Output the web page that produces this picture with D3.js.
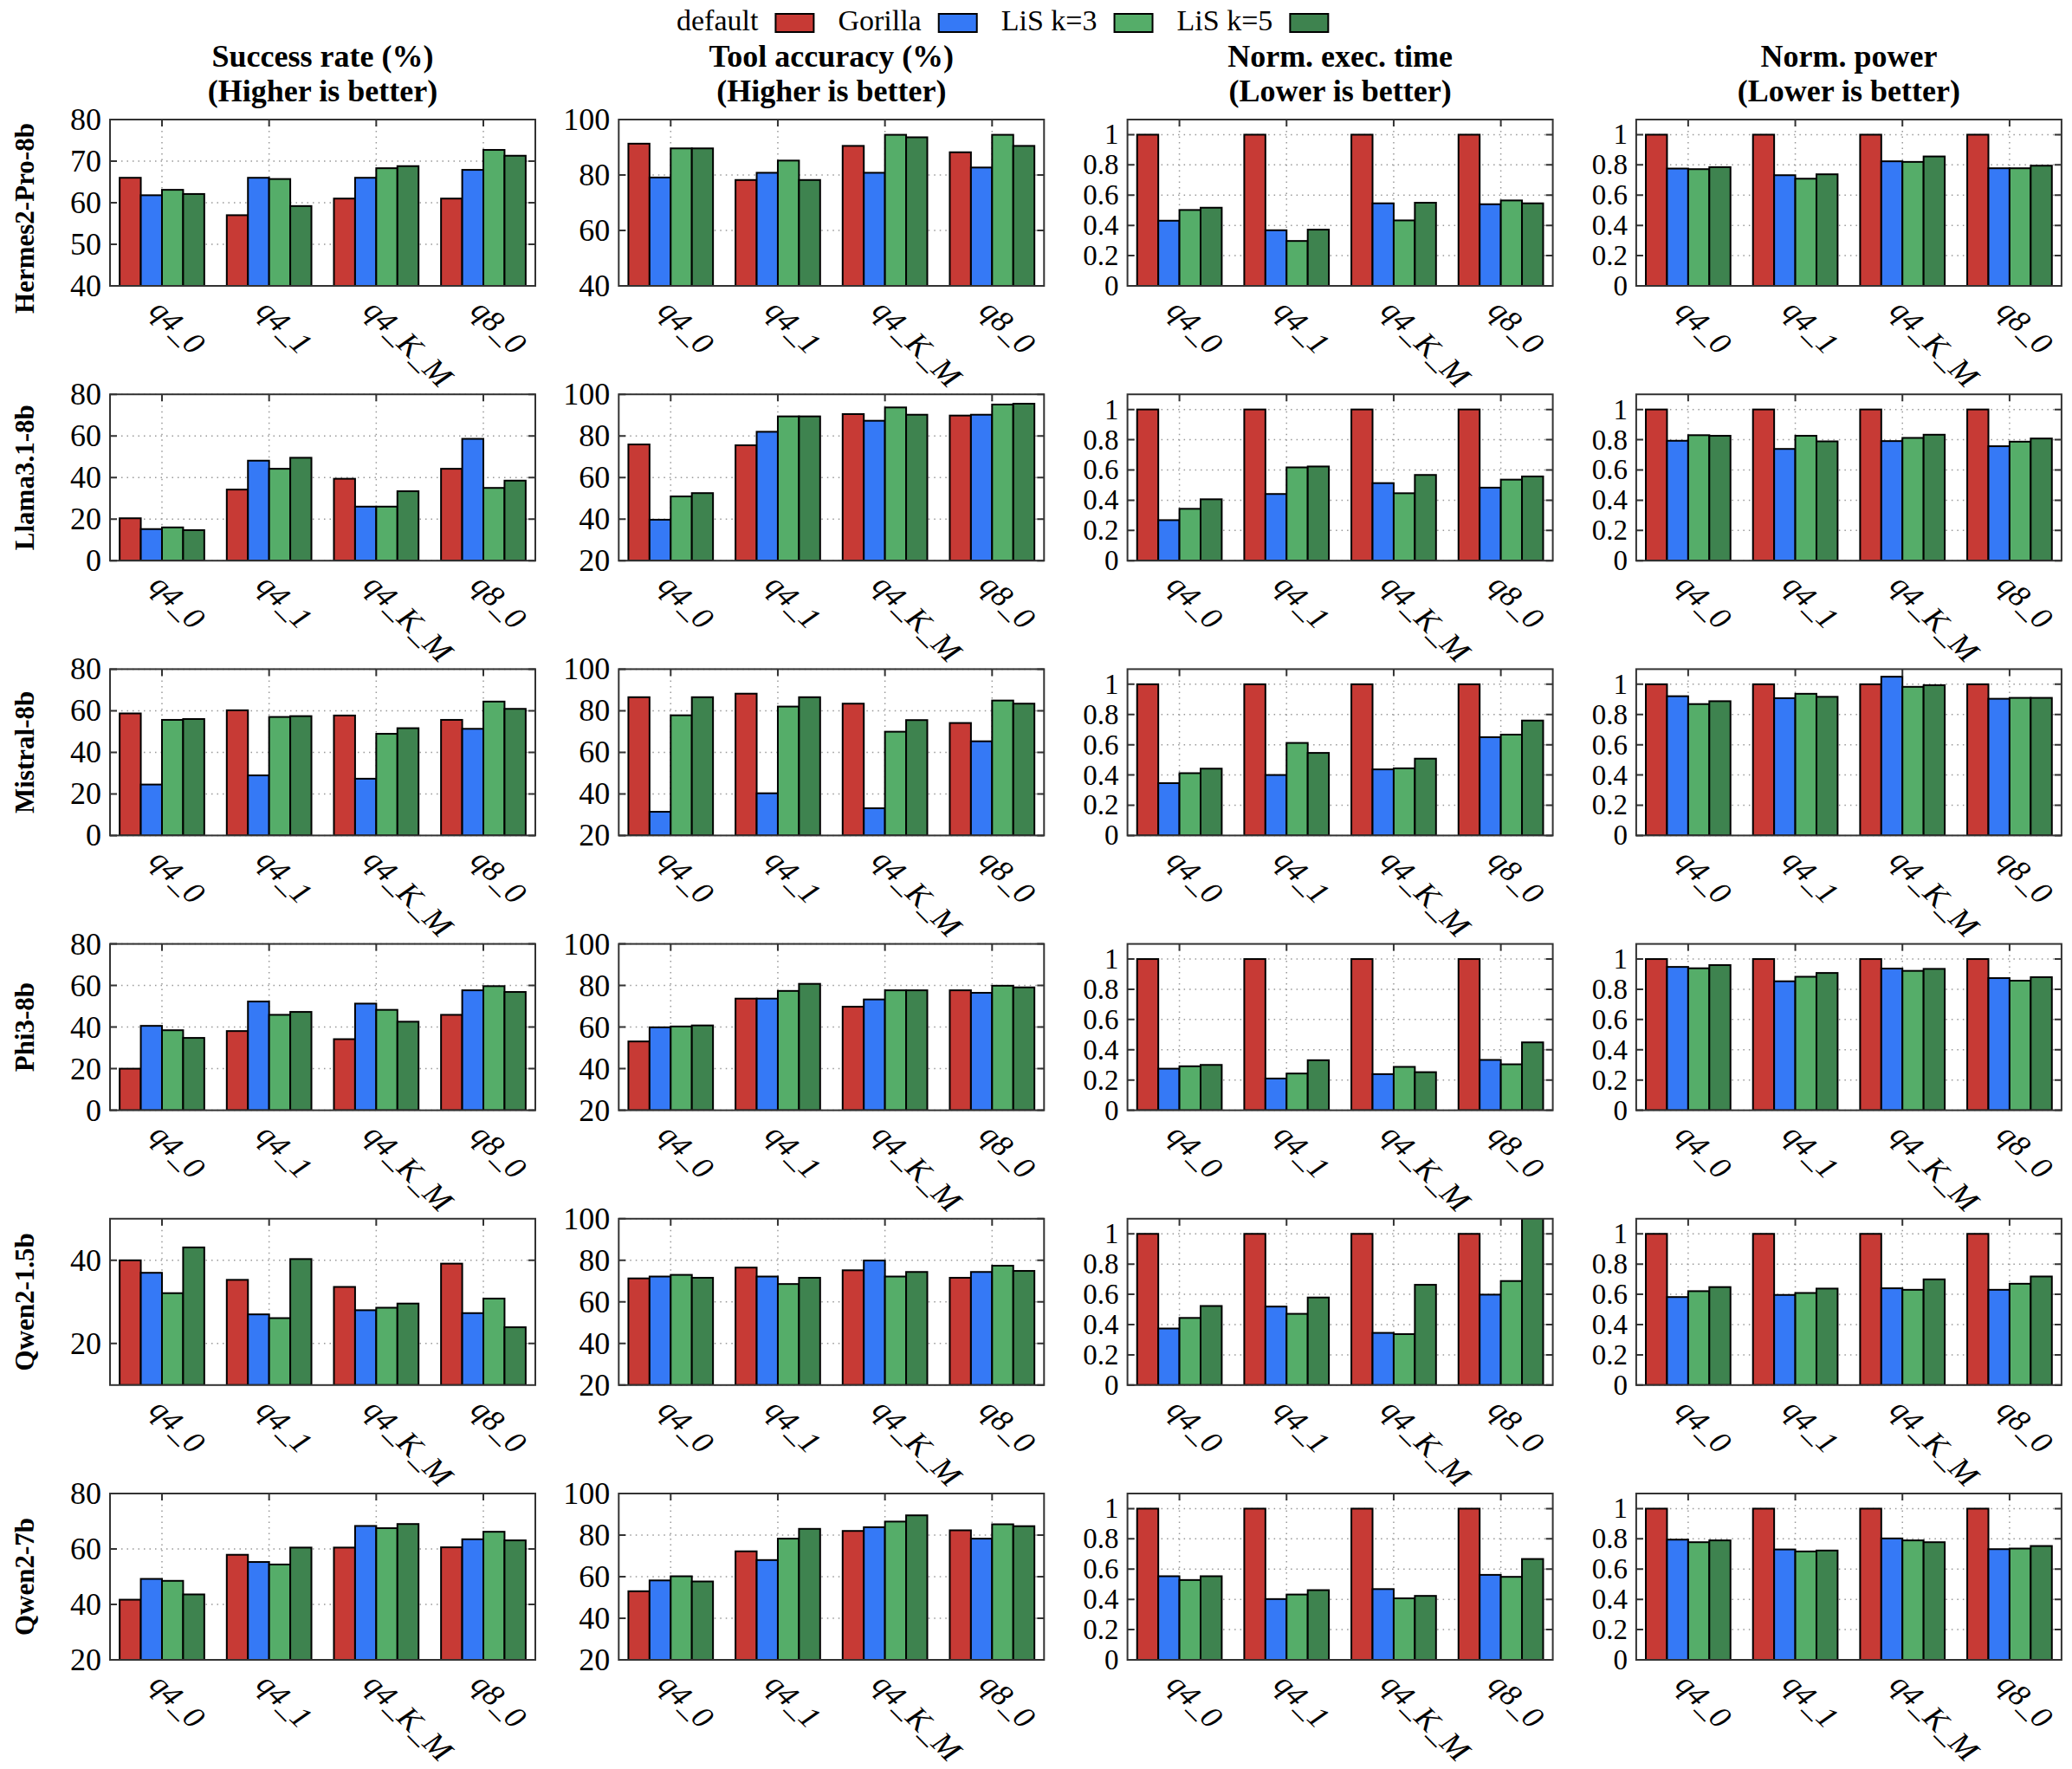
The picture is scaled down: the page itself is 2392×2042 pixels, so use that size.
<!DOCTYPE html>
<html>
<head>
<meta charset="utf-8">
<script src="https://cdn.jsdelivr.net/npm/d3@7"></script>
<style>
  body { margin: 0; background: #fff; }
  text { font-family: "Liberation Serif", "Times New Roman", serif; fill: #000; }
</style>
</head>
<body>
<svg id="chart" width="2392" height="2042"></svg>
<script>
const quants = ["q4_0", "q4_1", "q4_K_M", "q8_0"];
const methods = ["default", "Gorilla", "LiS k=3", "LiS k=5"];
const methodColors = ["#c73a35", "#3579f6", "#55ad69", "#3e834f"];
const models = ["Hermes2-Pro-8b", "Llama3.1-8b", "Mistral-8b", "Phi3-8b", "Qwen2-1.5b", "Qwen2-7b"];
const metricTitles = [
  ["Success rate (%)", "(Higher is better)"],
  ["Tool accuracy (%)", "(Higher is better)"],
  ["Norm. exec. time", "(Lower is better)"],
  ["Norm. power", "(Lower is better)"]
];

// values[model][quant][method]
const successRate = [
  [[66.0, 61.8, 63.1, 62.1], [57.0, 66.0, 65.7, 59.2], [61.0, 66.0, 68.3, 68.8], [61.0, 67.9, 72.7, 71.3]],
  [[20.4, 15.2, 16.0, 14.7], [34.2, 48.1, 44.2, 49.5], [39.4, 26.0, 26.0, 33.4], [44.2, 58.6, 35.0, 38.5]],
  [[58.7, 24.5, 55.6, 56.0], [60.2, 28.9, 57.0, 57.4], [57.7, 27.3, 48.9, 51.6], [55.6, 51.3, 64.4, 60.9]],
  [[20.0, 40.6, 38.5, 34.8], [38.1, 52.3, 45.9, 47.3], [34.2, 51.3, 48.3, 42.6], [45.9, 57.7, 59.7, 56.9]],
  [[40.0, 37.0, 32.1, 43.1], [35.3, 27.0, 26.1, 40.3], [33.6, 28.0, 28.6, 29.6], [39.2, 27.3, 30.8, 23.9]],
  [[41.7, 49.2, 48.5, 43.6], [57.9, 55.3, 54.4, 60.5], [60.5, 68.3, 67.5, 69.0], [60.6, 63.5, 66.2, 63.1]]
];
const toolAccuracy = [
  [[91.3, 79.1, 89.6, 89.6], [78.2, 80.8, 85.2, 78.2], [90.5, 80.8, 94.5, 93.6], [88.2, 82.7, 94.5, 90.5]],
  [[75.9, 39.7, 50.9, 52.5], [75.5, 82.0, 89.4, 89.4], [90.5, 87.3, 93.7, 90.2], [89.8, 90.2, 95.1, 95.5]],
  [[86.5, 31.4, 77.8, 86.5], [88.2, 40.3, 82.0, 86.5], [83.4, 33.1, 69.9, 75.5], [74.1, 65.3, 84.9, 83.4]],
  [[53.1, 59.9, 60.3, 60.8], [73.7, 73.7, 77.4, 80.8], [69.8, 73.3, 77.7, 77.7], [77.7, 76.5, 79.9, 79.1]],
  [[71.3, 72.2, 73.0, 71.6], [76.5, 72.2, 68.6, 71.6], [75.2, 79.9, 72.2, 74.4], [71.6, 74.4, 77.4, 74.9]],
  [[53.0, 58.2, 60.2, 57.7], [72.2, 68.0, 78.3, 83.0], [82.0, 83.8, 86.5, 89.5], [82.3, 78.3, 85.2, 84.3]]
];
const execTime = [
  [[1, 0.431, 0.502, 0.517], [1, 0.368, 0.297, 0.372], [1, 0.546, 0.433, 0.550], [1, 0.540, 0.565, 0.546]],
  [[1, 0.268, 0.343, 0.406], [1, 0.441, 0.617, 0.623], [1, 0.513, 0.446, 0.567], [1, 0.483, 0.536, 0.557]],
  [[1, 0.346, 0.412, 0.442], [1, 0.400, 0.612, 0.546], [1, 0.437, 0.444, 0.508], [1, 0.650, 0.667, 0.760]],
  [[1, 0.275, 0.291, 0.300], [1, 0.210, 0.243, 0.331], [1, 0.239, 0.287, 0.252], [1, 0.333, 0.304, 0.449]],
  [[1, 0.374, 0.444, 0.523], [1, 0.519, 0.471, 0.579], [1, 0.345, 0.337, 0.663], [1, 0.598, 0.688, 1.12]],
  [[1, 0.553, 0.528, 0.553], [1, 0.402, 0.432, 0.461], [1, 0.468, 0.407, 0.423], [1, 0.562, 0.549, 0.667]]
];
const power = [
  [[1, 0.776, 0.772, 0.785], [1, 0.732, 0.709, 0.738], [1, 0.824, 0.820, 0.856], [1, 0.778, 0.778, 0.795]],
  [[1, 0.793, 0.830, 0.826], [1, 0.739, 0.826, 0.789], [1, 0.791, 0.812, 0.833], [1, 0.757, 0.787, 0.808]],
  [[1, 0.921, 0.869, 0.888], [1, 0.908, 0.937, 0.917], [1, 1.05, 0.983, 0.994], [1, 0.904, 0.910, 0.910]],
  [[1, 0.948, 0.939, 0.960], [1, 0.853, 0.883, 0.908], [1, 0.937, 0.922, 0.935], [1, 0.874, 0.857, 0.880]],
  [[1, 0.582, 0.621, 0.648], [1, 0.596, 0.609, 0.638], [1, 0.640, 0.630, 0.699], [1, 0.630, 0.670, 0.718]],
  [[1, 0.795, 0.778, 0.790], [1, 0.730, 0.717, 0.723], [1, 0.803, 0.790, 0.778], [1, 0.732, 0.736, 0.753]]
];

// y ranges and tick labels per row
const successDomains = [[40, 80], [0, 80], [0, 80], [0, 80], [10, 50], [20, 80]];
const successTicks = [[40, 50, 60, 70, 80], [0, 20, 40, 60, 80], [0, 20, 40, 60, 80], [0, 20, 40, 60, 80], [20, 40], [20, 40, 60, 80]];
const accDomains = [[40, 100], [20, 100], [20, 100], [20, 100], [20, 100], [20, 100]];
const accTicks = [[40, 60, 80, 100], [20, 40, 60, 80, 100], [20, 40, 60, 80, 100], [20, 40, 60, 80, 100], [20, 40, 60, 80, 100], [20, 40, 60, 80, 100]];
const normDomain = [0, 1.1];
const normTicks = [0, 0.2, 0.4, 0.6, 0.8, 1];

const metrics = [successRate, toolAccuracy, execTime, power];
const domainFor = (c, r) => c === 0 ? successDomains[r] : c === 1 ? accDomains[r] : normDomain;
const ticksFor = (c, r) => c === 0 ? successTicks[r] : c === 1 ? accTicks[r] : normTicks;

const svg = d3.select("#chart");
const W = 491, H = 192;
const left0 = 127, top0 = 138, colStep = 587.3, rowStep = 317.2;
const fmt = d3.format("~g");

// column titles
metricTitles.forEach((t, c) => {
  const cx = left0 + c * colStep + W / 2;
  t.forEach((line, k) => {
    svg.append("text").attr("x", cx).attr("y", 77 + k * 40)
      .attr("text-anchor", "middle").attr("font-size", 36).attr("font-weight", "bold")
      .text(line);
  });
});

// legend (label first, then swatch)
let lx = 781;
methods.forEach((m, i) => {
  const t = svg.append("text").attr("x", lx).attr("y", 35).attr("font-size", 34).text(m);
  lx += t.node().getComputedTextLength() + 20;
  svg.append("rect").attr("x", lx).attr("y", 16).attr("width", 44).attr("height", 21)
    .attr("fill", methodColors[i]).attr("stroke", "#000").attr("stroke-width", 2);
  lx += 44 + 28;
});

models.forEach((model, r) => {
  const top = top0 + r * rowStep;
  svg.append("text")
    .attr("transform", `translate(28,${top + H / 2 + (r === 0 ? 18 : 0)}) rotate(-90)`)
    .attr("text-anchor", "middle").attr("dominant-baseline", "central")
    .attr("font-size", 31).attr("font-weight", "bold")
    .text(model);

  metrics.forEach((metric, c) => {
    const g = svg.append("g").attr("transform", `translate(${left0 + c * colStep},${top})`);
    const x = d3.scaleBand().domain(quants).range([0, W]).paddingInner(0.21).paddingOuter(0.09);
    const xs = d3.scaleBand().domain(methods).range([0, x.bandwidth()]);
    const dom = domainFor(c, r);
    const y = d3.scaleLinear().domain(dom).range([H, 0]);
    const yt = ticksFor(c, r);
    const clipId = `clip-${r}-${c}`;
    g.append("clipPath").attr("id", clipId).append("rect").attr("width", W).attr("height", H);

    // grid
    g.append("g").selectAll("line").data(yt).join("line")
      .attr("x1", 0).attr("x2", W).attr("y1", d => y(d)).attr("y2", d => y(d))
      .attr("stroke", "#999").attr("stroke-width", 1.5).attr("stroke-dasharray", "1.5 5");
    g.append("g").selectAll("line").data(quants).join("line")
      .attr("x1", d => x(d) + x.bandwidth() / 2).attr("x2", d => x(d) + x.bandwidth() / 2)
      .attr("y1", 0).attr("y2", H)
      .attr("stroke", "#999").attr("stroke-width", 1.5).attr("stroke-dasharray", "1.5 5");

    // bars
    g.append("g").attr("clip-path", `url(#${clipId})`)
      .selectAll("g").data(quants).join("g")
      .attr("transform", d => `translate(${x(d)},0)`)
      .selectAll("rect")
      .data((q, qi) => metric[r][qi].map((v, k) => ({ m: methods[k], v, k })))
      .join("rect")
      .attr("x", d => xs(d.m)).attr("width", xs.bandwidth())
      .attr("y", d => y(d.v)).attr("height", d => y(dom[0]) - y(d.v))
      .attr("fill", d => methodColors[d.k])
      .attr("stroke", "#000").attr("stroke-width", 2);

    // frame and ticks
    g.append("rect").attr("width", W).attr("height", H)
      .attr("fill", "none").attr("stroke", "#333").attr("stroke-width", 2);
    g.append("g").selectAll("path").data(yt).join("path")
      .attr("d", d => `M0,${y(d)}h8M${W},${y(d)}h-8`)
      .attr("stroke", "#333").attr("stroke-width", 2);
    g.append("g").selectAll("path").data(quants).join("path")
      .attr("d", d => `M${x(d) + x.bandwidth() / 2},0v8`)
      .attr("stroke", "#333").attr("stroke-width", 2);

    // tick labels
    g.append("g").selectAll("text").data(yt).join("text")
      .attr("x", -10).attr("y", d => y(d))
      .attr("text-anchor", "end").attr("dominant-baseline", "central")
      .attr("font-size", c >= 2 ? 33 : 36).text(d => fmt(d));
    g.append("g").selectAll("text").data(quants).join("text")
      .attr("transform", d => `translate(${x(d) + x.bandwidth() / 2 + 2},${H + 12}) rotate(45)`)
      .attr("dominant-baseline", "hanging").attr("font-style", "italic")
      .attr("font-size", 36).text(d => d);
  });
});
</script>
</body>
</html>
